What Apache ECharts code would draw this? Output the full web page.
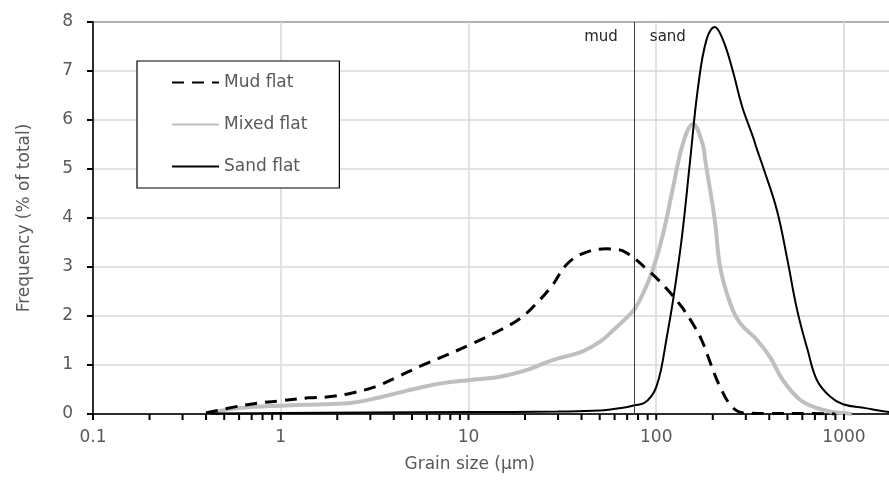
<!DOCTYPE html>
<html>
    <head>
        <meta charset="utf-8">
        <title>Grain size distribution</title>
        <script src="https://cdn.jsdelivr.net/npm/echarts@6/dist/echarts.min.js"></script>
        <style>
            html, body { margin: 0; padding: 0; background: #fff; }
            #chart1 { width: 889px; height: 482px; }
        </style>
    </head>
    <body>
        <div id="chart1"></div>
        <script type="text/javascript">
            // grain size (um) and frequency (% of total)
            var mudSize = [0.4, 0.56, 0.75, 1, 1.4, 1.8, 2.4, 3.2, 4.2, 5.5, 7.3, 10, 14.7, 19, 24, 28, 33.5, 41.5, 54, 62, 70, 90, 111, 137, 159, 175, 196, 216, 253, 296, 400, 600, 900];
            var mudFreq = [0.02, 0.14, 0.22, 0.27, 0.33, 0.35, 0.43, 0.56, 0.76, 0.97, 1.17, 1.4, 1.71, 1.96, 2.33, 2.63, 3.06, 3.29, 3.37, 3.36, 3.28, 2.94, 2.6, 2.18, 1.8, 1.5, 1.0, 0.6, 0.15, 0.02, 0.01, 0.01, 0.0];

            var mixedSize = [0.4, 0.6, 1, 1.7, 2.4, 3.3, 4.2, 5.7, 7.3, 10, 14.7, 20.5, 28, 40, 50, 59, 69, 77, 86, 96, 109, 123, 139, 157, 177, 182, 205, 219, 247, 279, 344, 404, 473, 583, 718, 874, 1000, 1100];
            var mixedFreq = [0.02, 0.12, 0.17, 0.2, 0.23, 0.33, 0.43, 0.55, 0.63, 0.69, 0.76, 0.9, 1.1, 1.27, 1.47, 1.71, 1.95, 2.15, 2.5, 2.95, 3.69, 4.63, 5.53, 5.92, 5.5, 5.2, 3.96, 3.0, 2.27, 1.86, 1.51, 1.16, 0.69, 0.29, 0.12, 0.04, 0.02, 0.0];

            var sandSize = [0.4, 1, 3, 10, 30, 50, 69, 77, 86, 94, 100, 106, 113, 123, 137, 151, 167, 185, 205, 227, 255, 287, 328, 344, 370, 440, 500, 563, 640, 718, 846, 988, 1300, 1737, 2000];
            var sandFreq = [0.01, 0.02, 0.03, 0.04, 0.05, 0.07, 0.14, 0.18, 0.22, 0.36, 0.55, 0.9, 1.5, 2.33, 3.61, 5.12, 6.67, 7.63, 7.9, 7.63, 7.02, 6.27, 5.65, 5.4, 5.05, 4.15, 3.14, 2.12, 1.31, 0.69, 0.35, 0.2, 0.12, 0.04, 0.02];

            var seriesNames = ['Mud flat', 'Mixed flat', 'Sand flat'];
            var xMin = 0.1, xMax = 2000;
            var yMin = 0, yMax = 8, yStep = 1;
            var boundary = 76;   // mud / sand limit
            var labelLevel = 7.7;

            // ticks 1..9 in every decade
            var tickValues = [];
            for (var d = xMin; d < xMax; d *= 10) {
                for (var k = 1; k <= 9; k++) {
                    var v = +(k * d).toPrecision(3);
                    if (v <= xMax) tickValues.push(v);
                }
            }

            function pairs(xs, ys) {
                return xs.map(function (x, i) { return [x, ys[i]]; });
            }

            var font = 'DejaVu Sans';
            var grey = '#595959';
            var gridColor = '#d9d9d9';

            var myChart = echarts.init(document.getElementById('chart1'));
            var option = {
                animation: false,
                backgroundColor: '#fff',
                grid: {
                    left: 93, top: 22, right: -11.5, bottom: 68,
                    show: true, borderColor: '#000', borderWidth: 1.5,
                    outerBoundsMode: 'none'
                },
                legend: {
                    data: seriesNames,
                    orient: 'vertical',
                    left: 137, top: 61,
                    padding: [13, 32, 13, 34],
                    itemWidth: 47, itemHeight: 14, itemGap: 25,
                    borderColor: '#000', borderWidth: 1.2,
                    backgroundColor: '#fff',
                    itemStyle: { opacity: 0 },
                    textStyle: { fontFamily: font, fontSize: 17, color: grey }
                },
                xAxis: {
                    type: 'log', logBase: 10,
                    min: xMin, max: xMax,
                    name: 'Grain size (µm)',
                    nameLocation: 'middle', nameGap: 42,
                    nameTextStyle: { fontFamily: font, fontSize: 17, color: grey, padding: [0, 54, 0, 0] },
                    axisLine: { show: true, lineStyle: { color: '#000', width: 1.5 } },
                    axisTick: { show: false },
                    axisLabel: { fontFamily: font, fontSize: 17, color: grey, margin: 15, showMaxLabel: false,
                        formatter: function (v) { return String(+v.toPrecision(3)); } },
                    splitLine: { show: true, lineStyle: { color: gridColor, width: 1.5 } }
                },
                yAxis: {
                    type: 'value', min: yMin, max: yMax, interval: yStep,
                    name: 'Frequency (% of total)',
                    nameLocation: 'middle', nameGap: 60,
                    nameTextStyle: { fontFamily: font, fontSize: 17, color: grey },
                    axisLine: { show: true, lineStyle: { color: '#000', width: 1.5 } },
                    axisTick: { show: true, inside: false, length: 6, lineStyle: { color: '#000', width: 2 } },
                    axisLabel: { fontFamily: font, fontSize: 17, color: grey, margin: 20 },
                    splitLine: { show: true, lineStyle: { color: gridColor, width: 1.5 } }
                },
                series: [
                    {
                        name: seriesNames[0], type: 'line',
                        data: pairs(mudSize, mudFreq),
                        symbol: 'none',
                        smooth: 0.4,
                        lineStyle: { color: '#000', width: 3, type: [12, 8] },
                        itemStyle: { color: '#000' },
                        z: 3
                    },
                    {
                        name: seriesNames[1], type: 'line',
                        data: pairs(mixedSize, mixedFreq),
                        symbol: 'none',
                        smooth: 0.4,
                        lineStyle: { color: '#bfbfbf', width: 4 },
                        itemStyle: { color: '#bfbfbf' },
                        z: 2
                    },
                    {
                        name: seriesNames[2], type: 'line',
                        data: pairs(sandSize, sandFreq),
                        symbol: 'none',
                        smooth: 0.4,
                        lineStyle: { color: '#000', width: 2 },
                        itemStyle: { color: '#000' },
                        z: 4,
                        markLine: {
                            silent: true, symbol: 'none',
                            label: { show: false },
                            lineStyle: { color: '#404040', width: 1, type: 'solid' },
                            data: [{ xAxis: boundary }]
                        },
                        markPoint: {
                            silent: true, symbol: 'circle', symbolSize: 0,
                            label: { show: true, fontFamily: font, fontSize: 15, color: '#262626', distance: 16 },
                            data: [
                                { coord: [boundary, labelLevel], label: { formatter: 'mud', position: 'left' } },
                                { coord: [boundary, labelLevel], label: { formatter: 'sand', position: 'right' } }
                            ]
                        }
                    },
                    {
                        // 1..9 ticks of each decade, hung under the x axis
                        type: 'custom', silent: true, clip: false, z: 10,
                        encode: { x: 0, y: 1 },
                        data: tickValues.map(function (t) { return [t, yMin]; }),
                        renderItem: function (params, api) {
                            var p = api.coord([api.value(0), api.value(1)]);
                            return {
                                type: 'rect',
                                shape: { x: p[0] - 1, y: p[1], width: 2, height: 6 },
                                style: { fill: '#000' }
                            };
                        }
                    }
                ]
            };
            myChart.setOption(option);
        </script>
    </body>
</html>
